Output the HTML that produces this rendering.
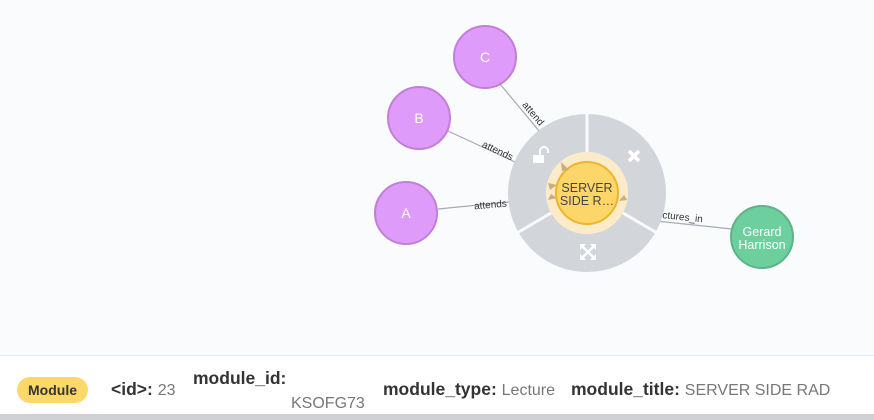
<!DOCTYPE html>
<html><head><meta charset="utf-8"><style>
body{margin:0;width:874px;height:420px;overflow:hidden;background:#f9fbfd;font-family:"Liberation Sans",sans-serif}
#g{position:absolute;left:0;top:0}
#bar{position:absolute;left:0;top:355px;width:874px;height:59px;background:#fff;border-top:1px solid #e6e9ee}
#bot{position:absolute;left:0;top:414px;width:874px;height:6px;background:#cfd1d5}
.t{position:absolute;font-size:17.5px;color:#333;white-space:nowrap}
.k{font-weight:bold}
.v{color:#777;font-size:16px}
#pill{position:absolute;left:17px;top:377px;width:71px;height:26px;border-radius:13px;background:#fcd86a;color:#333;font-weight:bold;font-size:14px;text-align:center;line-height:26px}
</style></head><body>
<svg id="g" width="874" height="355">
<g stroke="#a5abb6" stroke-width="1.2">
<line x1="500" y1="84" x2="540" y2="132"/>
<line x1="448" y1="131" x2="515" y2="162"/>
<line x1="438" y1="209" x2="509" y2="202"/>
<line x1="656" y1="221" x2="732" y2="229"/>
</g>
<g font-size="10" fill="#333">
<text x="518" y="107" transform="rotate(50 522 110)">attend</text>
<text x="480" y="153" transform="rotate(25 495 153)">attends</text>
<text x="474" y="208" transform="rotate(-5 490 205)">attends</text>
<text x="662" y="220" transform="rotate(6 680 220)">ctures_in</text>
</g>
<g>
<circle cx="587" cy="193" r="60" fill="none" stroke="#d2d5da" stroke-width="38"/>
<g stroke="#f9fbfd" stroke-width="3">
<line x1="587" y1="152" x2="587" y2="112"/>
<line x1="551" y1="213" x2="517" y2="233"/>
<line x1="623" y1="213" x2="657" y2="233"/>
</g>
</g>
<circle cx="587" cy="193" r="41" fill="#fbebc8"/>
<circle cx="587" cy="193" r="31" fill="#fdd66a" stroke="#eeb42a" stroke-width="2"/>
<g fill="#c9ae7a"><polygon points="561,162 569,170 562,171"/><polygon points="548,183 557,185 550,190"/><polygon points="548,200 557,198 551,194"/><polygon points="627,200 619,201 624,195"/></g>
<text x="587" y="192" text-anchor="middle" font-size="12.5" fill="#444">SERVER</text>
<text x="587" y="205" text-anchor="middle" font-size="12.5" fill="#444">SIDE R…</text>
<g fill="#fff">
<rect x="533" y="155" width="11" height="8"/>
<path d="M540 155 v-4 a4 4 0 0 1 8 0 v2" fill="none" stroke="#fff" stroke-width="2"/>
</g>
<g stroke="#fff" stroke-width="3.5">
<line x1="629" y1="151" x2="639" y2="161"/><line x1="639" y1="151" x2="629" y2="161"/>
</g>
<g stroke="#fff" stroke-width="2.5" fill="#fff">
<line x1="582" y1="246" x2="594" y2="258"/><line x1="594" y1="246" x2="582" y2="258"/>
<polygon points="580,244 586,244 580,250" stroke="none"/><polygon points="596,244 590,244 596,250" stroke="none"/>
<polygon points="580,260 586,260 580,254" stroke="none"/><polygon points="596,260 590,260 596,254" stroke="none"/>
</g>
<g font-size="14" fill="#fff" text-anchor="middle">
<circle cx="485" cy="57" r="31" fill="#de9bf9" stroke="#c27ed8" stroke-width="2"/><text x="485" y="62">C</text>
<circle cx="419" cy="118" r="31" fill="#de9bf9" stroke="#c27ed8" stroke-width="2"/><text x="419" y="123">B</text>
<circle cx="406" cy="213" r="31" fill="#de9bf9" stroke="#c27ed8" stroke-width="2"/><text x="406" y="218">A</text>
<circle cx="762" cy="237" r="31" fill="#6dce9e" stroke="#5db486" stroke-width="2"/><text x="762" y="236" font-size="12.5">Gerard</text><text x="762" y="249" font-size="12.5">Harrison</text>
</g>
</svg>
<div id="bar"></div>
<div id="pill">Module</div>
<div class="t" style="left:111px;top:379px"><span class="k">&lt;id&gt;:</span> <span class="v">23</span></div>
<div class="t k" style="left:193px;top:368px">module_id:</div>
<div class="t v" style="left:291px;top:395px">KSOFG73</div>
<div class="t" style="left:383px;top:379px"><span class="k">module_type:</span> <span class="v">Lecture</span></div>
<div class="t" style="left:571px;top:379px"><span class="k">module_title:</span> <span class="v">SERVER SIDE RAD</span></div>
<div id="bot"></div>
</body></html>
